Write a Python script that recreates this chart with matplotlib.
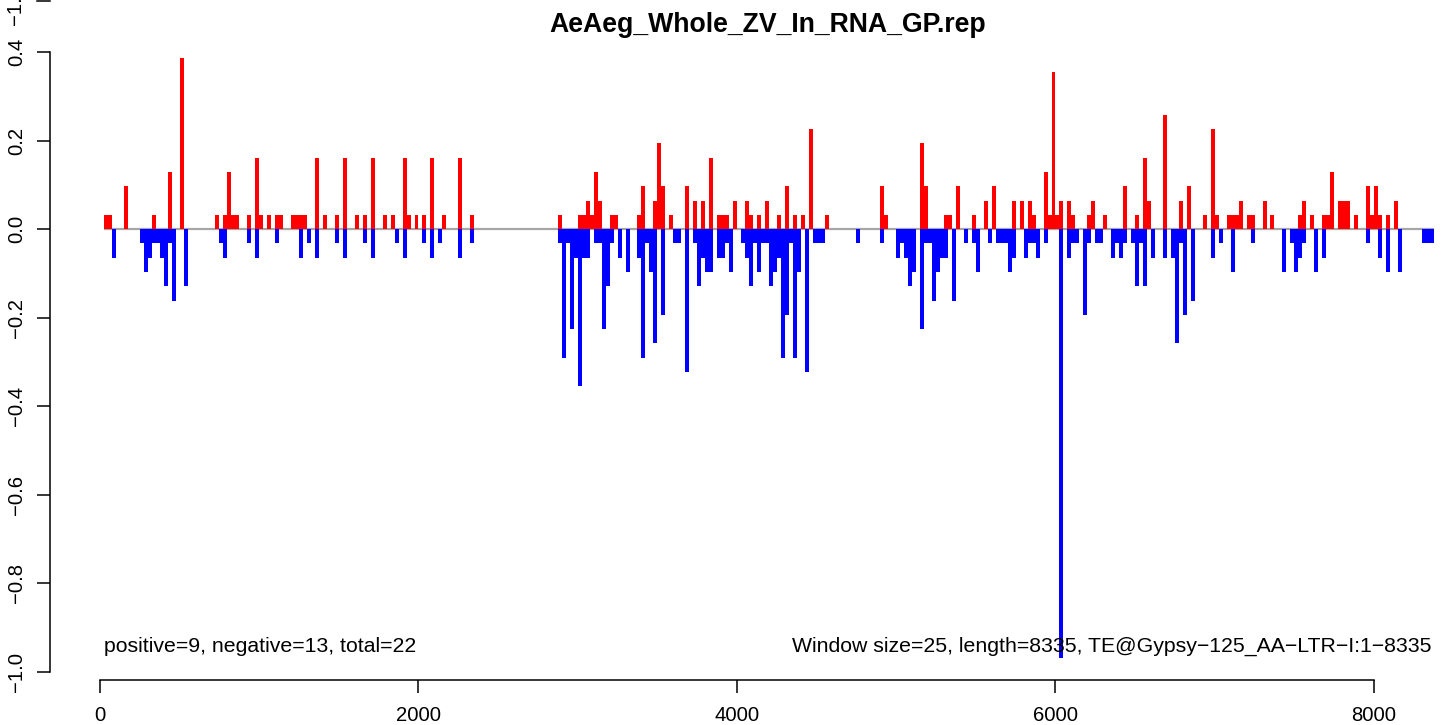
import matplotlib
matplotlib.use("Agg")
import matplotlib.pyplot as plt
from matplotlib.lines import Line2D

plt.rcParams['font.family'] = ['Liberation Sans', 'DejaVu Sans']

# windows are 25 bp, bar heights are counts in units of 1/31
window = 25
unit = 1 / 31

# positive (red) windows: window index and count
pos_win = [1, 2, 6, 13, 17, 20, 29, 31, 32, 33, 34, 37, 39, 40, 42, 44, 45, 48, 49, 50,
           51, 54, 56, 59, 61, 64, 66, 68, 71, 73, 76, 77, 79, 81, 83, 86, 90, 93,
           115, 120, 121, 122, 123, 124, 125, 128, 129, 135, 136, 139, 140, 141, 143, 147,
           149, 151, 153, 155, 156, 157, 159, 162, 163, 165, 167, 170, 172, 174, 176, 178, 182,
           196, 197, 206, 207, 212, 213, 215, 219, 222, 224, 229, 231, 233, 234, 237, 238,
           239, 240, 241, 243, 244, 248, 249, 252, 257, 260, 262, 263, 267, 271, 273, 277,
           279, 280, 283, 284, 285, 286, 288, 289, 292, 294, 301, 302, 304, 307, 308, 309,
           311, 312, 313, 315, 318, 319, 320, 321, 323, 325]
pos_cnt = [1, 1, 3, 1, 4, 12, 1, 1, 4, 1, 1, 1, 5, 1, 1, 1, 1, 1, 1, 1,
           1, 5, 1, 1, 5, 1, 1, 5, 1, 1, 5, 1, 1, 1, 5, 1, 5, 1,
           1, 1, 1, 2, 1, 4, 2, 1, 1, 1, 3, 2, 6, 3, 1, 3,
           2, 2, 5, 1, 1, 1, 2, 2, 1, 1, 2, 1, 3, 1, 1, 7, 1,
           3, 1, 6, 3, 1, 1, 3, 1, 2, 3, 2, 2, 2, 1, 4, 1,
           11, 1, 2, 2, 1, 1, 2, 1, 3, 1, 5, 2, 8, 2, 3, 1,
           7, 1, 1, 1, 1, 2, 1, 1, 2, 1, 1, 2, 1, 1, 1, 4,
           2, 2, 2, 1, 3, 1, 3, 1, 1, 2]

# negative (blue) windows: window index and count
neg_win = [3, 10, 11, 12, 13, 14, 15, 16, 17, 18, 21, 30, 31, 37, 39, 44, 50, 52, 54, 59,
           61, 66, 68, 74, 76, 81, 83, 85, 90, 93,
           115, 116, 117, 118, 119, 120, 121, 122, 124, 125, 126, 127, 128, 130, 132, 135,
           136, 137, 138, 139, 141, 144, 145, 147, 149, 150, 151, 152, 153, 155, 156, 157,
           158, 161, 162, 163, 164, 165, 166, 167, 168, 169, 170, 171, 172, 173, 174, 175,
           177, 179, 180, 181,
           190, 196, 200, 201, 202, 203, 204, 206, 207, 208, 209, 210, 211, 212, 214, 217,
           219, 220, 223, 225, 226, 227, 228, 229, 232, 233, 234, 235, 237, 241, 243, 244,
           245, 247, 248, 250, 251, 254, 255, 256, 257, 259, 260, 261, 262, 264, 267, 269,
           270, 271, 272, 274, 279, 281, 284, 289, 297, 299, 300, 301, 302, 305, 307, 318,
           321, 323, 326, 332, 333, 334]
neg_cnt = [2, 1, 3, 2, 1, 1, 2, 4, 1, 5, 4, 1, 2, 1, 2, 1, 2, 1, 2, 1,
           2, 1, 2, 1, 2, 1, 2, 1, 2, 1,
           1, 9, 1, 7, 2, 11, 2, 2, 1, 1, 7, 4, 1, 2, 3, 2,
           9, 1, 3, 8, 6, 1, 1, 10, 1, 4, 2, 3, 3, 2, 2, 1,
           3, 1, 2, 4, 1, 3, 1, 1, 4, 3, 2, 9, 6, 1, 9, 3,
           10, 1, 1, 1,
           1, 1, 2, 1, 2, 4, 3, 7, 1, 1, 5, 3, 2, 2, 5, 1,
           1, 3, 1, 1, 1, 1, 3, 2, 2, 1, 1, 2, 1, 30, 2, 1,
           1, 6, 1, 1, 1, 2, 1, 2, 1, 1, 4, 1, 4, 2, 2, 2,
           8, 1, 6, 5, 2, 1, 3, 1, 3, 1, 3, 2, 1, 3, 2, 1,
           2, 3, 3, 1, 1, 1]

yticks = [-1.0, -0.8, -0.6, -0.4, -0.2, 0.0, 0.2, 0.4]
ytick_labels = ['\u22121.0', '\u22120.8', '\u22120.6', '\u22120.4', '\u22120.2', '0.0', '0.2', '0.4']
xticks = [0, 2000, 4000, 6000, 8000]

title = 'AeAeg_Whole_ZV_In_RNA_GP.rep'
left_note = 'positive=9, negative=13, total=22'
right_note = 'Window size=25, length=8335, TE@Gypsy\u2212125_AA\u2212LTR\u2212I:1\u22128335'

W, H = 1441, 725
fig = plt.figure(figsize=(W / 100, H / 100), dpi=100)

# pixel layout of the plot region
px_bp = 1274 / 8000          # px per bp (0 -> 100 px, 8000 -> 1374 px)
px_y = 620 / 1.4             # px per y unit (0.4 -> 52 px, -1.0 -> 672 px)
left_px, right_px, top_py, bottom_py = 50, 1436, 40, 680
ax = fig.add_axes([left_px / W, 1 - bottom_py / H,
                   (right_px - left_px) / W, (bottom_py - top_py) / H])
ax.set_xlim((left_px - 100) / px_bp, (right_px - 100) / px_bp)
ax.set_ylim(-1.0 - (bottom_py - 672) / px_y, 0.4 + (52 - top_py) / px_y)

pos_x = [w * window for w in pos_win]
neg_x = [w * window for w in neg_win]
pos_h = [c * unit for c in pos_cnt]
neg_h = [-c * unit for c in neg_cnt]

ax.hlines(0, min(pos_x + neg_x), max(pos_x + neg_x) + window,
          color='#a6a6a6', lw=1.6, zorder=1)
ax.bar(pos_x, pos_h, width=window, align='edge', color='#ff0000', linewidth=0, zorder=2)
ax.bar(neg_x, neg_h, width=window, align='edge', color='#0000ff', linewidth=0, zorder=2)

for s in ['top', 'right']:
    ax.spines[s].set_visible(False)
ax.spines['left'].set_bounds(-1.0, 0.4)
ax.spines['bottom'].set_bounds(0, 8000)
ax.spines['left'].set_linewidth(1.1)
ax.spines['bottom'].set_linewidth(1.1)

tick_fs = 14.6
ax.set_yticks(yticks)
ax.set_yticklabels(ytick_labels, rotation=90, va='center', fontsize=tick_fs)
ax.set_xticks(xticks)
ax.set_xticklabels([str(t) for t in xticks], fontsize=tick_fs)
ax.tick_params(axis='y', length=9.4, width=1.1, pad=8)
ax.tick_params(axis='x', length=9, width=1.1, pad=10)

fig.text(768 / W, 1 - 32 / H, title, ha='center', va='baseline',
         fontsize=19.2, fontweight='bold')
ax.text(104 / W, 1 - 652 / H, left_note, transform=fig.transFigure,
        ha='left', va='baseline', fontsize=15.3)
ax.text(1432 / W, 1 - 652 / H, right_note, transform=fig.transFigure,
        ha='right', va='baseline', fontsize=15.3)

# bottom of the panel above, cut off by the image edge
fig.text(25 / W, 1 - 5 / H, '\u22121.0', rotation=90, ha='right', va='center',
         fontsize=tick_fs)
fig.add_artist(Line2D([37 / W, 50 / W], [1 - 1 / H, 1 - 1 / H],
                      transform=fig.transFigure, color='black', lw=1.1))

fig.savefig('out.png', dpi=100)
